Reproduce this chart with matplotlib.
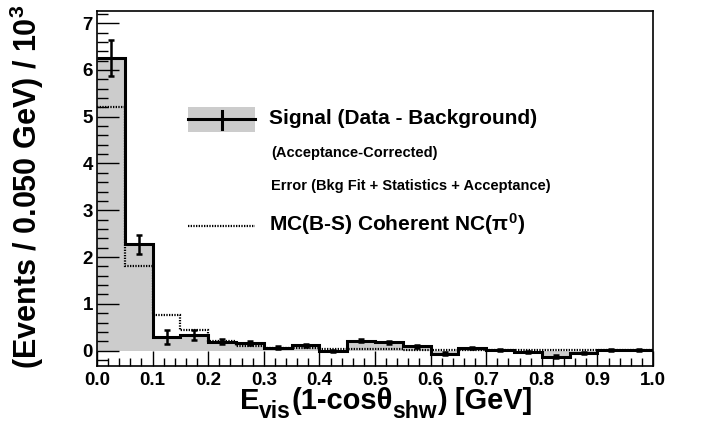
import numpy as np
import matplotlib
matplotlib.use("Agg")
import matplotlib.pyplot as plt
from matplotlib.ticker import MultipleLocator
from matplotlib.patches import Rectangle
from matplotlib.lines import Line2D

# ---------------------------------------------------------------------------
# Data (values in units of 10^3 events per 0.050 GeV bin)
# ---------------------------------------------------------------------------
bin_edges = np.linspace(0.0, 1.0, 21)

signal = [6.25, 2.27, 0.29, 0.34, 0.19, 0.16, 0.06, 0.11, -0.01, 0.21,
          0.18, 0.09, -0.07, 0.05, 0.01, -0.03, -0.13, -0.06, 0.02, 0.02]
signal_err = [0.38, 0.21, 0.16, 0.11, 0.05, 0.04, 0.03, 0.03, 0.03, 0.03,
              0.03, 0.03, 0.03, 0.02, 0.02, 0.02, 0.03, 0.02, 0.02, 0.02]
mc_coherent = [5.21, 1.81, 0.77, 0.43, 0.21, 0.09, 0.06, 0.06, 0.04, 0.03,
               0.03, 0.02, 0.02, 0.02, 0.02, 0.02, 0.02, 0.02, 0.02, 0.02]

x_ticks = [0.0, 0.1, 0.2, 0.3, 0.4, 0.5, 0.6, 0.7, 0.8, 0.9, 1.0]
y_ticks = [0, 1, 2, 3, 4, 5, 6, 7]

# x title pieces: (text, is_subscript)
x_title_parts = [("E", False), ("vis", True), ("(1-cos\u03b8", False),
                 ("shw", True), (") [GeV]", False)]

# ---------------------------------------------------------------------------
# Style: ROOT-like bold Helvetica look
# ---------------------------------------------------------------------------
plt.rcParams["font.family"] = ["Liberation Sans", "DejaVu Sans"]
plt.rcParams["font.weight"] = "bold"
plt.rcParams["mathtext.fontset"] = "custom"
plt.rcParams["mathtext.rm"] = "Liberation Sans:bold"
plt.rcParams["mathtext.it"] = "Liberation Sans:bold"
plt.rcParams["mathtext.bf"] = "Liberation Sans:bold"
plt.rcParams["mathtext.sf"] = "Liberation Sans:bold"

W, H = 706, 430
fig = plt.figure(figsize=(W / 100, H / 100), dpi=100)
ax = fig.add_axes([97 / W, 64 / H, 556 / W, 355 / H])

centers = 0.5 * (bin_edges[:-1] + bin_edges[1:])

# gray filled signal histogram
ax.stairs(signal, bin_edges, baseline=0, fill=True, color="#cccccc",
          linewidth=0, zorder=1)
# MC coherent (dotted)
ax.stairs(mc_coherent, bin_edges, baseline=None, color="black",
          linestyle=(0, (0.6, 0.6)), linewidth=1.6, zorder=2)
# signal outline
ax.stairs(signal, bin_edges, baseline=None, color="black",
          linewidth=2.2, zorder=3)
ax.errorbar(centers, signal, yerr=signal_err, fmt="none", ecolor="black",
            elinewidth=1.8, capsize=2.5, capthick=1.8, zorder=4)

ax.set_xlim(0.0, 1.0)
ax.set_ylim(-0.33, 7.26)
ax.set_xticks(x_ticks)
ax.set_xticklabels([f"{v:.1f}" for v in x_ticks])
ax.set_yticks(y_ticks)
ax.set_yticklabels([str(v) for v in y_ticks])
ax.xaxis.set_minor_locator(MultipleLocator(0.02))
ax.yaxis.set_minor_locator(MultipleLocator(0.2))
ax.tick_params(which="both", direction="in", top=False, right=False,
               labelsize=13.5, width=1)
ax.tick_params(axis="x", which="major", length=11, pad=4)
ax.tick_params(axis="x", which="minor", length=5.5)
ax.tick_params(axis="y", which="major", length=16, pad=3)
ax.tick_params(axis="y", which="minor", length=8)
for lab in ax.get_xticklabels() + ax.get_yticklabels():
    lab.set_fontweight("bold")
for sp in ax.spines.values():
    sp.set_linewidth(1.2)


def px(x, y):
    return x / W, 1 - y / H


# x title, built piece by piece so the subscripts are ROOT-sized
renderer = fig.canvas.get_renderer()
pieces = []
for txt, sub in x_title_parts:
    t = fig.text(0, 0, txt, fontsize=16.5 if sub else 21, fontweight="bold",
                 ha="left", va="baseline")
    pieces.append((t, sub))
widths = [t.get_window_extent(renderer).width for t, _ in pieces]
xpos = 386 - sum(widths) / 2
base = 409
for (t, sub), w in zip(pieces, widths):
    t.set_position(px(xpos, base + (9 if sub else 0)))
    xpos += w

fig.text(*px(27, 187), r"(Events / 0.050 GeV) / 10$^{3}$",
         fontsize=22, fontweight="bold", ha="center", va="center",
         rotation=90)

# legend (drawn by hand, ROOT-style)
x0, y0 = px(188, 132)
fig.add_artist(Rectangle((x0, y0), 67 / W, 25 / H, transform=fig.transFigure,
                         facecolor="#cccccc", edgecolor="none", zorder=5))
fig.add_artist(Line2D([188 / W, 255 / W], [1 - 119 / H] * 2,
                      transform=fig.transFigure, color="black", linewidth=2.2, zorder=6))
fig.add_artist(Line2D([222 / W] * 2, [1 - 111 / H, 1 - 129 / H],
                      transform=fig.transFigure, color="black", linewidth=2.2, zorder=6))
fig.add_artist(Line2D([188 / W, 255 / W], [1 - 226 / H] * 2,
                      transform=fig.transFigure, color="black",
                      linestyle=(0, (0.6, 0.6)), linewidth=1.6, zorder=6))

fig.text(*px(269, 119), "Signal (Data - Background)", fontsize=15,
         fontweight="bold", ha="left", va="center")
fig.text(*px(271, 153), "(Acceptance-Corrected)", fontsize=10.5,
         fontweight="bold", ha="left", va="center")
fig.text(*px(271, 186), "Error (Bkg Fit + Statistics + Acceptance)", fontsize=10.5,
         fontweight="bold", ha="left", va="center")
fig.text(*px(269, 224), r"MC(B-S) Coherent NC($\pi^{0}$)", fontsize=15,
         fontweight="bold", ha="left", va="center")

fig.savefig("out.png", dpi=100)
